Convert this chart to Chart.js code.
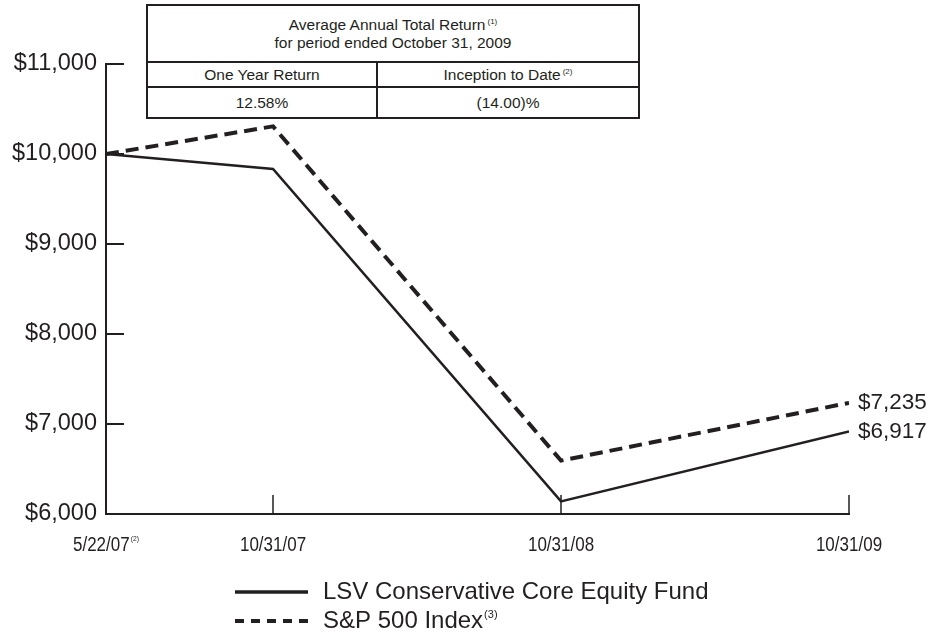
<!DOCTYPE html>
<html>
<head>
<meta charset="utf-8">
<script src="https://cdn.jsdelivr.net/npm/chart.js@4.4.0/dist/chart.umd.min.js"></script>
<style>
  body { margin: 0; background: #fff; }
  #wrap { position: relative; width: 938px; height: 633px; }
  #perf {
    position: absolute; left: 146px; top: 4px; width: 494px;
    border-collapse: collapse; background: #fff;
    font-family: "Liberation Sans", Arial, sans-serif; font-size: 15.5px; color: #231f20;
  }
  #perf td { border: 2px solid #231f20; text-align: center; padding: 0; line-height: 18px; }
  #perf sup { font-size: 8px; vertical-align: 6px; line-height: 0; margin-left: 2px; }
</style>
</head>
<body>
<div id="wrap">
  <canvas id="growth"></canvas>
  <table id="perf">
    <tr style="height:57px"><td colspan="2">Average Annual Total Return<sup>(1)</sup><br>for period ended October 31, 2009</td></tr>
    <tr style="height:25px"><td style="width:228px">One Year Return</td><td>Inception to Date<sup>(2)</sup></td></tr>
    <tr style="height:31px"><td>12.58%</td><td>(14.00)%</td></tr>
  </table>
</div>
<script>
// values
const dateLabels = ['5/22/07', '10/31/07', '10/31/08', '10/31/09'];
const dateNotes = ['(2)', '', '', ''];
const xSlots = [0, 0.58, 1.58, 2.58];
const fundValues = [10000, 9833, 6140, 6917];
const spValues = [10000, 10307, 6593, 7235];
const yTicks = [6000, 7000, 8000, 9000, 10000, 11000];
const seriesNames = ['LSV Conservative Core Equity Fund', 'S&P 500 Index'];
const seriesNotes = ['', '(3)'];

const ink = '#231f20';
const money = v => '$' + v.toLocaleString('en-US');
const narrow = 0.85; // squeeze for the condensed date labels

const extras = {
  id: 'extras',
  afterDraw(chart) {
    const ctx = chart.ctx;
    const xs = chart.scales.x, ys = chart.scales.y;
    const area = chart.chartArea;
    ctx.save();
    ctx.strokeStyle = ink;
    ctx.fillStyle = ink;

    // y ticks pointing inward
    ctx.lineWidth = 2;
    yTicks.forEach(v => {
      const y = Math.round(ys.getPixelForValue(v));
      ctx.beginPath();
      ctx.moveTo(area.left, y);
      ctx.lineTo(area.left + 18, y);
      ctx.stroke();
    });

    // x ticks pointing up
    ctx.lineWidth = 1.5;
    xSlots.forEach((v, i) => {
      if (i === 0) return;
      const x = Math.round(xs.getPixelForValue(v));
      ctx.beginPath();
      ctx.moveTo(x, area.bottom);
      ctx.lineTo(x, area.bottom - 19);
      ctx.stroke();
    });

    // x labels with footnote marks, condensed
    ctx.textBaseline = 'middle';
    ctx.textAlign = 'left';
    dateLabels.forEach((lab, i) => {
      const x = xs.getPixelForValue(xSlots[i]);
      ctx.font = '20px "Liberation Sans", sans-serif';
      const w1 = ctx.measureText(lab).width * narrow;
      ctx.font = '8px "Liberation Sans", sans-serif';
      const w2 = dateNotes[i] ? ctx.measureText(dateNotes[i]).width * narrow + 1 : 0;
      const x0 = x - (w1 + w2) / 2;
      ctx.save();
      ctx.translate(x0, 0);
      ctx.scale(narrow, 1);
      ctx.font = '20px "Liberation Sans", sans-serif';
      ctx.fillText(lab, 0, 545);
      if (dateNotes[i]) {
        ctx.font = '8px "Liberation Sans", sans-serif';
        ctx.fillText(dateNotes[i], (w1 + 1) / narrow, 539);
      }
      ctx.restore();
    });

    // end values
    ctx.font = '22.5px "Liberation Sans", sans-serif';
    const last = xSlots.length - 1;
    const lx = xs.getPixelForValue(xSlots[last]) + 9;
    ctx.fillText(money(spValues[last]), lx, ys.getPixelForValue(spValues[last]));
    ctx.fillText(money(fundValues[last]), lx, ys.getPixelForValue(fundValues[last]));

    // legend
    const rows = [592, 621];
    chart.data.datasets.forEach((ds, i) => {
      const y = rows[i];
      ctx.lineWidth = i === 0 ? 3.5 : 4;
      ctx.setLineDash(i === 0 ? [] : [9, 7]);
      ctx.beginPath();
      ctx.moveTo(235, y);
      ctx.lineTo(308, y);
      ctx.stroke();
      ctx.setLineDash([]);
      ctx.font = '24px "Liberation Sans", sans-serif';
      ctx.fillText(seriesNames[i], 323, y);
      if (seriesNotes[i]) {
        const w = ctx.measureText(seriesNames[i]).width;
        ctx.font = '11px "Liberation Sans", sans-serif';
        ctx.fillText(seriesNotes[i], 323 + w + 1, y - 6);
      }
    });
    ctx.restore();
  }
};

new Chart(document.getElementById('growth'), {
  type: 'line',
  data: {
    datasets: [
      {
        label: seriesNames[0],
        data: xSlots.map((x, i) => ({ x: x, y: fundValues[i] })),
        borderColor: ink,
        borderWidth: 2.5,
        pointRadius: 0,
        tension: 0
      },
      {
        label: seriesNames[1],
        data: xSlots.map((x, i) => ({ x: x, y: spValues[i] })),
        borderColor: ink,
        borderWidth: 4,
        borderDash: [13, 7],
        pointRadius: 0,
        tension: 0
      }
    ]
  },
  options: {
    responsive: true,
    maintainAspectRatio: false,
    animation: false,
    layout: { padding: { top: 64, right: 89, left: 0, bottom: 0 } },
    plugins: { legend: { display: false }, tooltip: { enabled: false } },
    scales: {
      x: {
        type: 'linear',
        min: 0,
        max: xSlots[xSlots.length - 1],
        grid: { display: false, drawTicks: false },
        border: { display: true, color: ink, width: 2 },
        ticks: { display: false },
        afterFit: s => { s.height = 119; }
      },
      y: {
        min: 6000,
        max: 11000,
        grid: { display: false, drawTicks: false },
        border: { display: true, color: ink, width: 2 },
        afterBuildTicks: s => { s.ticks = yTicks.map(v => ({ value: v })); },
        ticks: {
          padding: 9,
          color: ink,
          font: { family: '"Liberation Sans", sans-serif', size: 23.5 },
          callback: v => money(v)
        },
        afterFit: s => { s.width = 106; }
      }
    }
  },
  plugins: [extras]
});
</script>
</body>
</html>
